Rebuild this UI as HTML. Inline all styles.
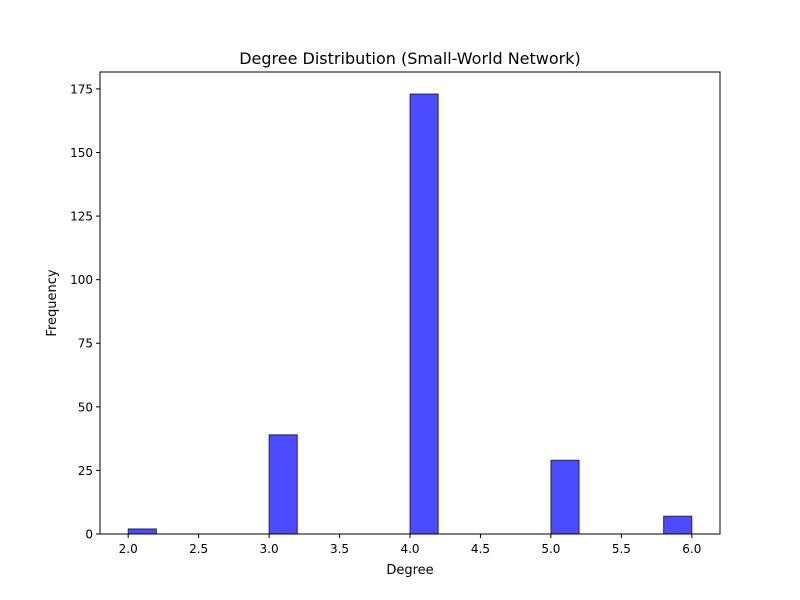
<!DOCTYPE html>
<html>
<head>
<meta charset="utf-8">
<style>
html,body{margin:0;padding:0;background:#fff;}
svg{display:block;font-family:"DejaVu Sans","Liberation Sans",sans-serif;}
</style>
</head>
<body>
<svg id="chart" width="800" height="600" viewBox="0 0 800 600">
  <rect x="0" y="0" width="800" height="600" fill="#fff"/>
  <g id="bars"></g>
  <g id="xticks"></g>
  <g id="yticks"></g>
  <rect x="100" y="72" width="620" height="462" fill="none" stroke="#000" stroke-width="1"/>
  <text x="410" y="64" text-anchor="middle" font-size="16">Degree Distribution (Small-World Network)</text>
  <text x="410" y="574" text-anchor="middle" font-size="13">Degree</text>
  <text x="56" y="303" text-anchor="middle" font-size="13" transform="rotate(-90 56 303)">Frequency</text>
</svg>
<script>
const binStarts = [2.0, 3.0, 4.0, 5.0, 5.8];
const binCounts = [2, 39, 173, 29, 7];
const binWidth = 0.2;
const xTickLabels = ["2.0","2.5","3.0","3.5","4.0","4.5","5.0","5.5","6.0"];
const yTickLabels = ["0","25","50","75","100","125","150","175"];

const X0 = 100, X1 = 720, Y0 = 534, Y1 = 72;
const xMin = 1.8, xMax = 6.2;
const yMax = Math.max(...binCounts) * 1.05;
const sx = v => X0 + (v - xMin) / (xMax - xMin) * (X1 - X0);
const sy = v => Y0 - v / yMax * (Y0 - Y1);
const NS = "http://www.w3.org/2000/svg";

const bars = document.getElementById('bars');
binStarts.forEach((b, i) => {
  const r = document.createElementNS(NS, 'rect');
  const x = sx(b), w = sx(b + binWidth) - x, y = sy(binCounts[i]);
  r.setAttribute('x', x); r.setAttribute('y', y);
  r.setAttribute('width', w); r.setAttribute('height', Y0 - y);
  r.setAttribute('fill', '#4b4bff');
  r.setAttribute('stroke', 'rgba(0,0,0,0.7)');
  r.setAttribute('stroke-width', '1');
  
  
  bars.appendChild(r);
});

const xt = document.getElementById('xticks');
xTickLabels.forEach(l => {
  const x = sx(parseFloat(l));
  const ln = document.createElementNS(NS, 'line');
  ln.setAttribute('x1', x); ln.setAttribute('x2', x);
  ln.setAttribute('y1', Y0); ln.setAttribute('y2', Y0 + 4);
  ln.setAttribute('stroke', '#000');
  
  
  xt.appendChild(ln);
  const t = document.createElementNS(NS, 'text');
  t.setAttribute('x', x); t.setAttribute('y', Y0 + 19);
  t.setAttribute('text-anchor', 'middle'); t.setAttribute('font-size', '12');
  t.textContent = l;
  
  
  xt.appendChild(t);
});

const yt = document.getElementById('yticks');
yTickLabels.forEach(l => {
  const y = sy(parseFloat(l));
  const ln = document.createElementNS(NS, 'line');
  ln.setAttribute('x1', X0 - 4); ln.setAttribute('x2', X0);
  ln.setAttribute('y1', y); ln.setAttribute('y2', y);
  ln.setAttribute('stroke', '#000');
  
  
  yt.appendChild(ln);
  const t = document.createElementNS(NS, 'text');
  t.setAttribute('x', X0 - 7); t.setAttribute('y', y + 4.5);
  t.setAttribute('text-anchor', 'end'); t.setAttribute('font-size', '12');
  t.textContent = l;
  
  
  yt.appendChild(t);
});
</script>
</body>
</html>
